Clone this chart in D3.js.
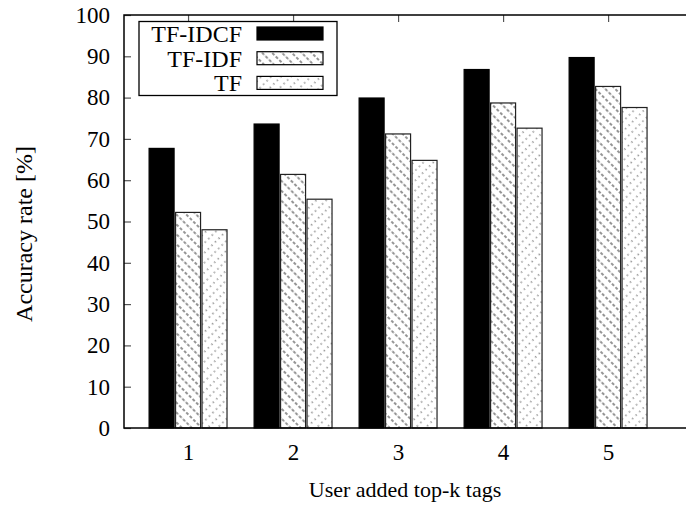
<!DOCTYPE html>
<html>
<head>
<meta charset="utf-8">
<script src="https://cdn.jsdelivr.net/npm/d3@7"></script>
<style>
  body { margin: 0; background: #fff; }
  text { font-family: "Liberation Serif", "Times New Roman", serif; }
</style>
</head>
<body>
<svg id="chart" width="686" height="505"></svg>
<script>
// data
var categories = ["1", "2", "3", "4", "5"];
var seriesNames = ["TF-IDCF", "TF-IDF", "TF"];
var tfidcf = [67.7, 73.6, 79.9, 86.8, 89.7];
var tfidf = [52.2, 61.4, 71.2, 78.7, 82.7];
var tf = [48.0, 55.4, 64.8, 72.6, 77.6];
var yTicks = [0, 10, 20, 30, 40, 50, 60, 70, 80, 90, 100];

var series = [tfidcf, tfidf, tf];
var fills = ["#000", "url(#hatchIdf)", "url(#hatchTf)"];

var svg = d3.select("#chart");
var margin = {left: 124, top: 15, bottom: 77};
var width = 690 - margin.left;
var height = 505 - margin.top - margin.bottom;

var defs = svg.append("defs");

// hatch pattern: two staggered dashed lines per tile so the dashes don't line up
function hatch(id, angle, gap, dash, colour) {
    var period = dash.reduce(function(a, b) { return a + b; }, 0);
    var p = defs.append("pattern")
        .attr("id", id)
        .attr("patternUnits", "userSpaceOnUse")
        .attr("width", gap * 2).attr("height", period)
        .attr("patternTransform", "rotate(" + angle + ")");
    p.append("rect").attr("width", gap * 2).attr("height", period).attr("fill", "#fff");
    [0, 1].forEach(function(k) {
        p.append("line")
            .attr("x1", 1 + k * gap).attr("y1", -period).attr("x2", 1 + k * gap).attr("y2", period * 2)
            .attr("stroke", colour).attr("stroke-width", 0.9)
            .attr("stroke-dasharray", dash.join(","))
            .attr("stroke-dashoffset", k * period / 2);
    });
}
hatch("hatchIdf", -45, 7, [3, 2], "#111");   // TF-IDF: dashed, down to the right
hatch("hatchTf", 45, 7, [1.3, 3.7], "#222"); // TF: dotted, up to the right

var g = svg.append("g")
    .attr("transform", "translate(" + margin.left + "," + margin.top + ")");

var x = d3.scaleLinear().domain([-0.61, 4.78]).range([0, width]);
var y = d3.scaleLinear().domain([0, 100]).range([height, 0]);

var barW = 0.238, barStep = 0.252;

// bars
series.forEach(function(vals, s) {
    g.selectAll(".bar" + s)
        .data(vals)
        .enter().append("rect")
        .attr("class", "bar" + s)
        .attr("x", function(d, i) { return x(i + (s - 1) * barStep - barW / 2); })
        .attr("y", function(d) { return y(d); })
        .attr("width", x(barW) - x(0))
        .attr("height", function(d) { return height - y(d); })
        .attr("fill", fills[s])
        .attr("stroke", s === 0 ? "#000" : "#222")
        .attr("stroke-width", 1.2);
});

// ticks (inward) on left and top
g.append("g")
    .call(d3.axisLeft(y).tickValues(yTicks).tickSize(-7).tickPadding(14))
    .call(function(a) {
        a.select(".domain").remove();
        a.selectAll("line").attr("stroke", "#555").attr("stroke-width", 1.2);
        a.selectAll("text").attr("font-size", 23).attr("fill", "#000");
    });

g.append("g")
    .call(d3.axisTop(x).tickValues(d3.range(categories.length)).tickSize(-7).tickFormat(""))
    .call(function(a) {
        a.select(".domain").remove();
        a.selectAll("line").attr("stroke", "#555").attr("stroke-width", 1.2);
    });

g.append("g")
    .attr("transform", "translate(0," + height + ")")
    .call(d3.axisBottom(x).tickValues(d3.range(categories.length)).tickSize(0).tickPadding(16)
        .tickFormat(function(i) { return categories[i]; }))
    .call(function(a) {
        a.select(".domain").remove();
        a.selectAll("text").attr("font-size", 23).attr("fill", "#000");
    });

// frame
g.append("rect")
    .attr("width", width).attr("height", height)
    .attr("fill", "none").attr("stroke", "#000").attr("stroke-width", 1.5);

// axis titles
svg.append("text")
    .attr("transform", "translate(32,234) rotate(-90)")
    .attr("text-anchor", "middle")
    .attr("font-size", 24)
    .text("Accuracy rate [%]");

svg.append("text")
    .attr("x", 405).attr("y", 497)
    .attr("text-anchor", "middle")
    .attr("font-size", 22)
    .text("User added top-k tags");

// legend
var legend = svg.append("g");
legend.append("rect")
    .attr("x", 139).attr("y", 21.5).attr("width", 198).attr("height", 74)
    .attr("fill", "#fff").attr("stroke", "#000").attr("stroke-width", 1.3);

seriesNames.forEach(function(name, s) {
    var cy = 33.5 + s * 24.7;
    legend.append("text")
        .attr("x", 242).attr("y", cy)
        .attr("dy", "0.35em")
        .attr("text-anchor", "end")
        .attr("font-size", 24)
        .text(name);
    legend.append("rect")
        .attr("x", 257).attr("y", cy - 6.5)
        .attr("width", 66).attr("height", 13)
        .attr("fill", fills[s])
        .attr("stroke", "#000").attr("stroke-width", 1.2);
});
</script>
</body>
</html>
